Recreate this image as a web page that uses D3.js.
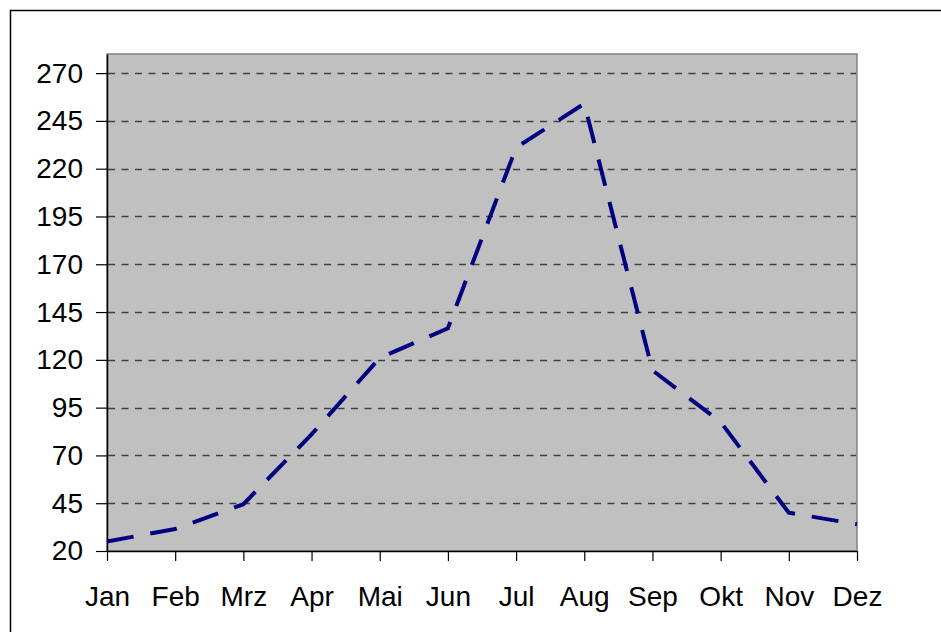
<!DOCTYPE html>
<html>
<head>
<meta charset="utf-8">
<script src="https://cdn.jsdelivr.net/npm/d3@7"></script>
<style>
  html, body { margin: 0; padding: 0; background: #fff; }
  svg { display: block; }
  text { font-family: "Liberation Sans", Arial, sans-serif; }
</style>
</head>
<body>
<svg id="chart" width="941" height="632"></svg>
<script>
const months = ["Jan","Feb","Mrz","Apr","Mai","Jun","Jul","Aug","Sep","Okt","Nov","Dez"];
const values = [25, 31.5, 44.5, 81, 121, 136.5, 231, 254, 114.5, 87.5, 40, 34];
const yTicks = [20, 45, 70, 95, 120, 145, 170, 195, 220, 245, 270];
const yDomain = [20, 280];

const svg = d3.select("#chart");
const plotLeft = 107, plotRight = 857, plotTop = 54, plotBottom = 551;

// outer border
svg.append("rect")
  .attr("x", 10.5).attr("y", 10.5)
  .attr("width", 960).attr("height", 660)
  .attr("fill", "none").attr("stroke", "#000").attr("stroke-width", 1.5);

const x = d3.scalePoint().domain(months).range([plotLeft, plotRight]);
const y = d3.scaleLinear().domain(yDomain).range([plotBottom, plotTop]);

// plot area
svg.append("rect")
  .attr("x", plotLeft).attr("y", plotTop)
  .attr("width", plotRight - plotLeft).attr("height", plotBottom - plotTop)
  .attr("fill", "#C0C0C0").attr("stroke", "#808080").attr("stroke-width", 1.5);

// gridlines
svg.append("g").selectAll("line")
  .data(yTicks.filter(d => d > yDomain[0]))
  .join("line")
  .attr("x1", plotLeft + 1).attr("x2", plotRight - 1)
  .attr("y1", d => Math.round(y(d)) + 0.5).attr("y2", d => Math.round(y(d)) + 0.5)
  .attr("stroke", "#404040").attr("stroke-width", 1.3)
  .attr("stroke-dasharray", "7,6.5");

// y axis
const yAxis = d3.axisLeft(y).tickValues(yTicks).tickSize(11).tickPadding(13).tickSizeOuter(0);
const gy = svg.append("g").attr("transform", `translate(${plotLeft},0)`).call(yAxis);
gy.select(".domain").attr("stroke", "#000").attr("stroke-width", 1.5);
gy.selectAll(".tick line").attr("stroke", "#000").attr("stroke-width", 1.2);
gy.selectAll(".tick text").attr("font-size", 28).attr("fill", "#000")
  .attr("font-family", "'Liberation Sans', Arial, sans-serif");

// x axis
const xAxis = d3.axisBottom(x).tickSize(10).tickPadding(25).tickSizeOuter(0);
const gx = svg.append("g").attr("transform", `translate(0,${plotBottom})`).call(xAxis);
gx.select(".domain").attr("stroke", "#000").attr("stroke-width", 1.5);
gx.selectAll(".tick line").attr("stroke", "#000").attr("stroke-width", 1.2);
gx.selectAll(".tick text").attr("font-size", 28).attr("fill", "#000")
  .attr("font-family", "'Liberation Sans', Arial, sans-serif");

// line
const line = d3.line().x((d, i) => x(months[i])).y(d => y(d));
svg.append("path")
  .datum(values)
  .attr("d", line)
  .attr("fill", "none")
  .attr("stroke", "#000080")
  .attr("stroke-width", 4)
  .attr("stroke-linejoin", "miter")
  .attr("stroke-dasharray", "27,17");
</script>
</body>
</html>
